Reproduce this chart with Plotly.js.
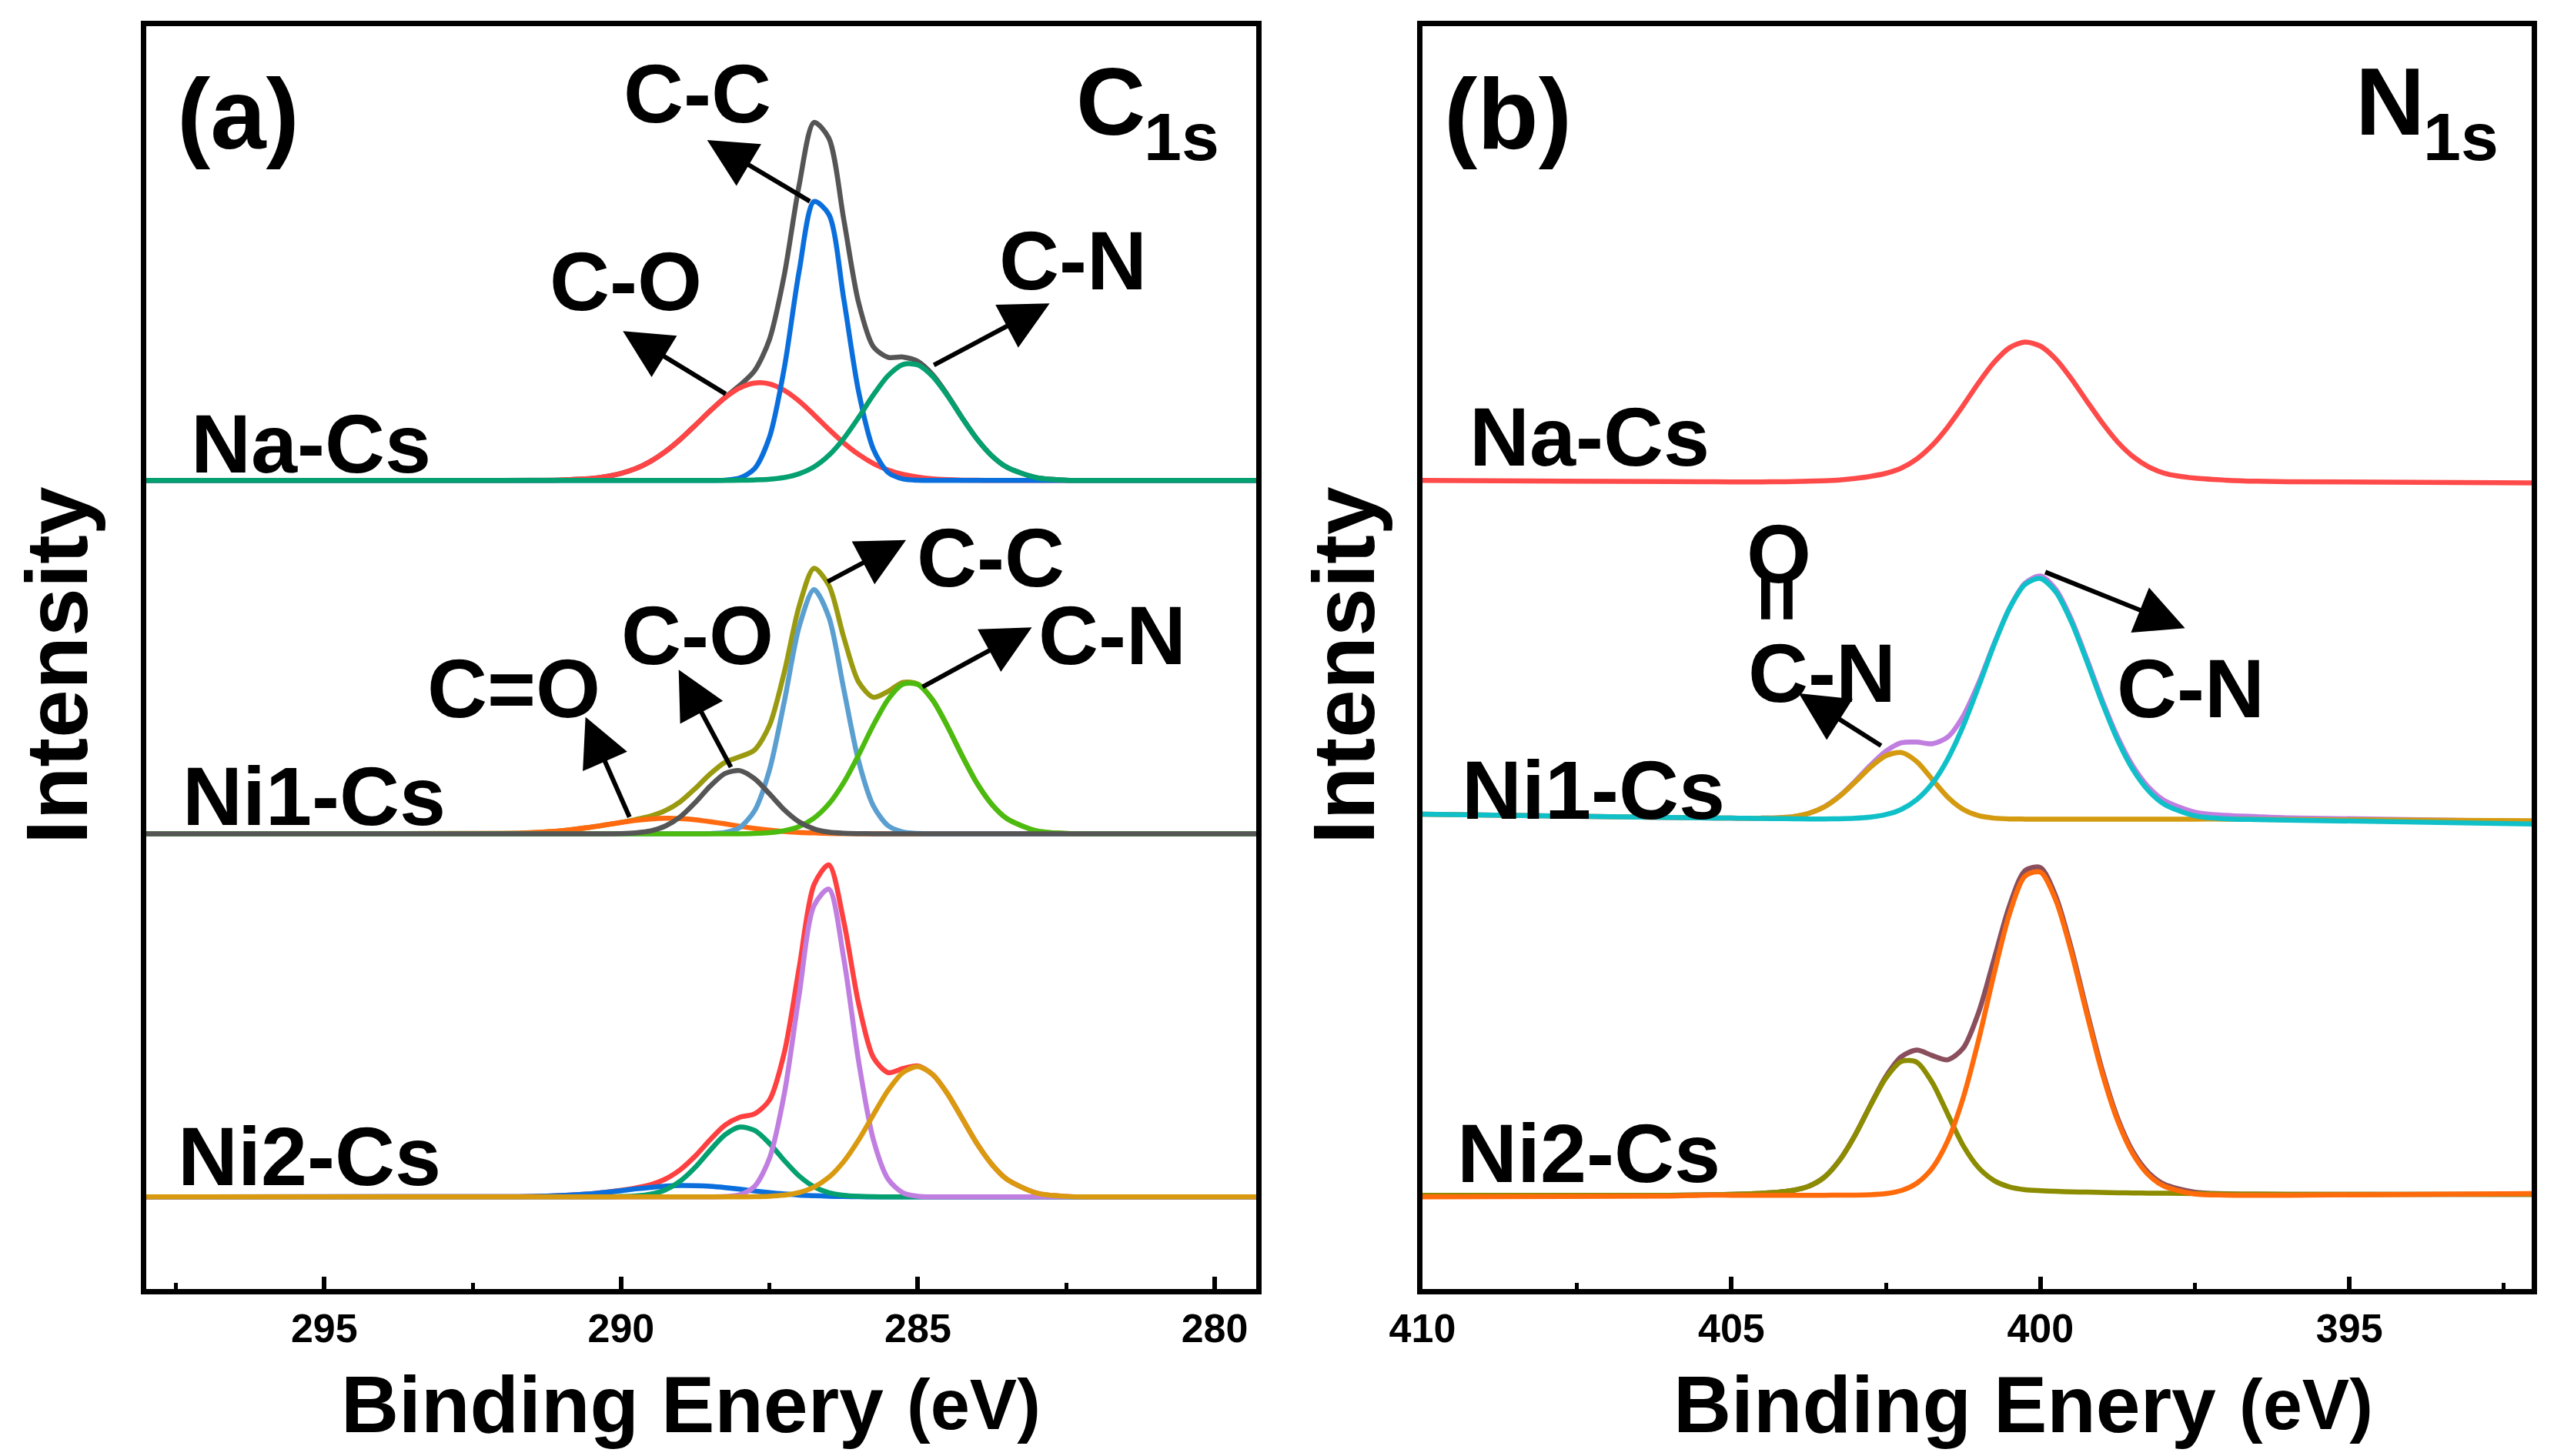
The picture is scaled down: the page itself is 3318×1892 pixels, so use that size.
<!DOCTYPE html>
<html>
<head>
<meta charset="utf-8">
<script src="https://cdn.plot.ly/plotly-3.0.1.min.js"></script>
<style>html,body{margin:0;padding:0;background:#fff;}#chart{width:3318px;height:1892px;}</style>
</head>
<body>
<div id="chart"></div>
<script>
// ---------- C1s panel (a) ----------
const XL = [298, 292, 291.5, 291, 290.5, 290.25, 290, 289.75, 289.5, 289.25, 289, 288.75, 288.5, 288.25, 288, 287.75, 287.5, 287.25, 287, 286.75, 286.5, 286.25, 286, 285.75, 285.5, 285.25, 285, 284.75, 284.5, 284.25, 284, 283.75, 283.5, 283, 282.5, 282, 279];

// Na-Cs (C1s)
const naC_env = [0,0,0.1,0.3,1.2,2.4,4.3,7.3,11.8,17.8,25.3,33.9,42.7,51.0,58.4,67.4,86.6,126.3,181.4,219.9,210.2,160.6,109.4,82.1,75.6,75.8,73.1,64.9,52.5,38.3,25.3,15.0,8.1,1.7,0.2,0,0];
const naC_CO  = [0,0,0.05,0.3,1.2,2.4,4.3,7.3,11.8,17.8,25.3,33.9,42.7,50.8,56.8,59.8,59.3,55.3,48.7,40.3,31.4,23.1,16.0,10.4,6.4,3.7,2.0,1.0,0.5,0.2,0.1,0,0,0,0,0,0];
const naC_CC  = [0,0,0,0,0,0,0,0,0,0,0,0,0,0.2,1.5,7.3,26.6,69.2,128.6,171.3,163.4,111.8,54.8,19.2,4.8,0.9,0.1,0,0,0,0,0,0,0,0,0,0];
const naC_CN  = [0,0,0,0,0,0,0,0,0,0,0,0,0,0,0.1,0.3,0.7,1.8,4.1,8.3,15.4,25.7,38.6,52.5,64.4,71.2,71.0,63.9,52.0,38.1,25.2,15.0,8.1,1.7,0.2,0,0];

// Ni1-Cs (C1s)
const ni1C_env = [0,0.2,0.7,1.9,4.1,5.5,7.0,8.8,10.9,14.3,19.8,27.8,36.7,43.9,47.3,51.5,66.6,99.3,139.8,163.0,152.6,120.8,93.3,83.8,87.5,93.0,91.9,82.1,65.9,47.6,30.8,17.9,9.3,1.8,0.2,0,0];
const ni1C_CEO = [0,0.2,0.7,1.9,4.1,5.5,6.9,8.2,9.1,9.5,9.3,8.6,7.4,6.1,4.6,3.3,2.2,1.4,0.8,0.5,0.2,0.1,0,0,0,0,0,0,0,0,0,0,0,0,0,0,0];
const ni1C_CC  = [0,0,0,0,0,0,0,0,0,0,0,0,0.1,0.8,3.9,14.2,39.2,81.3,127.2,149.9,133.1,89.0,44.9,17.1,4.9,1.1,0.2,0,0,0,0,0,0,0,0,0,0];
const ni1C_CN  = [0,0,0,0,0,0,0,0,0,0,0,0,0,0,0,0.2,0.7,1.9,4.5,9.6,18.3,31.4,48.3,66.7,82.6,91.9,91.7,82.1,65.9,47.6,30.8,17.9,9.3,1.8,0.2,0,0];
const ni1C_CO  = [0,0,0,0,0,0,0.1,0.6,1.8,4.8,10.5,19.2,29.2,37.0,38.8,33.8,24.5,14.7,7.3,3.0,1.0,0.3,0.1,0,0,0,0,0,0,0,0,0,0,0,0,0,0];

// Ni2-Cs (C1s)
const ni2C_env = [0,0.1,0.2,0.8,1.9,2.8,4.0,5.5,7.5,11.0,16.8,25.1,35.1,44.0,48.9,51.0,59.5,88.6,140.8,191.7,203.9,169.4,118.9,85.6,76.3,78.8,80.4,75.1,63.3,47.9,32.5,19.8,10.8,2.3,0.3,0,0];
const ni2C_CEO = [0,0.1,0.2,0.8,1.9,2.8,3.8,4.9,5.8,6.6,7.0,6.9,6.5,5.7,4.7,3.6,2.6,1.8,1.1,0.7,0.4,0.2,0.1,0,0,0,0,0,0,0,0,0,0,0,0,0,0];
const ni2C_CO  = [0,0,0,0,0,0,0.2,0.6,1.7,4.4,9.8,18.2,28.6,38.1,42.9,40.8,32.8,22.3,12.8,6.2,2.5,0.9,0.3,0.1,0,0,0,0,0,0,0,0,0,0,0,0,0];
const ni2C_CC  = [0,0,0,0,0,0,0,0,0,0,0,0,0,0.2,1.3,6.5,23.7,63.4,124.2,178.8,189.0,146.7,83.7,35.1,10.8,2.4,0.4,0,0,0,0,0,0,0,0,0,0];
const ni2C_CN  = [0,0,0,0,0,0,0,0,0,0,0,0,0,0,0,0.1,0.4,1.1,2.7,6.0,12.0,21.6,34.8,50.4,65.5,76.4,80.0,75.1,63.3,47.9,32.5,19.8,10.8,2.3,0.3,0,0];

// ---------- N1s panel (b) ----------
const XR = [410, 406, 405.5, 405, 404.75, 404.5, 404.25, 404, 403.75, 403.5, 403.25, 403, 402.75, 402.5, 402.25, 402, 401.75, 401.5, 401.25, 401, 400.75, 400.5, 400.25, 400, 399.75, 399.5, 399.25, 399, 398.75, 398.5, 398.25, 398, 397.5, 397, 396.5, 396, 392];

const naN_env  = [1,0.3,0.2,0.1,0.1,0.1,0.2,0.3,0.5,0.8,1.3,2.2,3.5,5.4,8.6,14.2,22.6,33.8,47.0,61.0,73.5,82.5,86.0,83.5,75.5,63.5,49.8,36.4,24.6,15.6,9.4,5.5,2.4,1.2,0.5,0.2,-0.5];

const ni1N_env = [3,1,0.8,0.6,0.5,0.6,0.8,1.5,3.5,7.5,14.2,23.2,33.1,41.7,46.9,47.3,46.3,50.4,63.2,83.6,107.7,129.6,144.8,149.3,141.0,122.7,98.5,73.0,50.3,32.3,19.6,11.5,4.3,2.3,1.5,0.8,-1.5];
const ni1N_CN  = [3,1,0.8,0.6,0.5,0.4,0.3,0.2,0.1,0.1,0.2,0.5,1.2,2.8,6.0,12.0,21.9,36.9,57.2,81.5,107.1,129.5,144.1,147.8,139.5,121.2,97.0,71.5,48.5,30.3,17.4,9.2,2.0,0.2,-0.3,-0.6,-3];
const ni1N_OCN = [3,1,0.8,0.6,0.5,0.6,0.8,1.5,3.5,7.4,14.0,22.7,31.9,38.9,40.9,35.3,24.4,13.5,6.0,2.1,0.6,0.1,0,0,0,0,0,0,0,0,0,0,0,0,-0.2,-0.3,-1];

const ni2N_env = [0,0,0.2,0.5,0.8,1.2,1.8,3.0,5.5,11.0,21.6,36.9,55.4,73.0,85.1,89.1,85.8,83.2,90.3,112.3,145.0,177.9,199.3,201.2,183.5,151.6,113.4,76.8,47.3,26.6,13.8,6.8,1.8,0.9,0.6,0.5,0.5];
const ni2N_OCN = [0,0,0.2,0.5,0.8,1.2,1.8,3.0,5.5,11.0,21.5,36.8,55.1,72.0,82.2,81.7,69.2,49.8,30.5,16.9,9.0,5.1,3.4,2.8,2.4,2.1,1.9,1.7,1.5,1.4,1.3,1.2,1.0,0.8,0.6,0.5,0.5];
const ni2N_CN  = [-1,-0.5,0,0,0,0,0,0,0,0,0.05,0.1,0.3,1.0,2.9,7.4,16.6,33.4,59.8,95.4,136.0,172.8,195.9,198.4,181.1,149.5,111.5,75.1,45.8,25.2,12.5,5.6,0.8,0.1,0,0,1];

// stacking offsets (arbitrary intensity units)
const OFF_C_NA = 498, OFF_C_NI1 = 281, OFF_C_NI2 = 58;
const OFF_N_NA = 497, OFF_N_NI1 = 290, OFF_N_NI2 = 59;

const TICKS_C = [295, 290, 285, 280];
const TICKS_N = [410, 405, 400, 395];

const FONT = 'Liberation Sans, Arial, Helvetica, sans-serif';
const W = 3318, H = 1892;

function tr(xs, vals, off, color, panel) {
  return {
    x: xs, y: vals.map(v => v + off), mode: 'lines', hoverinfo: 'skip',
    line: {color: color, width: 6.5, shape: 'spline', smoothing: 0.8},
    xaxis: panel === 1 ? 'x' : 'x2', yaxis: panel === 1 ? 'y' : 'y2'
  };
}

const traces = [
  // panel a, Na-Cs
  tr(XL, naC_env, OFF_C_NA, '#555555', 1),
  tr(XL, naC_CO, OFF_C_NA, '#ff4545', 1),
  tr(XL, naC_CC, OFF_C_NA, '#0a6fdc', 1),
  tr(XL, naC_CN, OFF_C_NA, '#05a070', 1),
  // panel a, Ni1-Cs
  tr(XL, ni1C_env, OFF_C_NI1, '#9a9a10', 1),
  tr(XL, ni1C_CEO, OFF_C_NI1, '#ff6a10', 1),
  tr(XL, ni1C_CC, OFF_C_NI1, '#5a9fd0', 1),
  tr(XL, ni1C_CN, OFF_C_NI1, '#4cbb10', 1),
  tr(XL, ni1C_CO, OFF_C_NI1, '#555555', 1),
  // panel a, Ni2-Cs
  tr(XL, ni2C_env, OFF_C_NI2, '#ff4040', 1),
  tr(XL, ni2C_CEO, OFF_C_NI2, '#0a6fdc', 1),
  tr(XL, ni2C_CO, OFF_C_NI2, '#05a070', 1),
  tr(XL, ni2C_CC, OFF_C_NI2, '#c07ee0', 1),
  tr(XL, ni2C_CN, OFF_C_NI2, '#d99a10', 1),
  // panel b
  tr(XR, naN_env, OFF_N_NA, '#ff4a4a', 2),
  tr(XR, ni1N_env, OFF_N_NI1, '#c07ee0', 2),
  tr(XR, ni1N_OCN, OFF_N_NI1, '#d49a10', 2),
  tr(XR, ni1N_CN, OFF_N_NI1, '#10c0c8', 2),
  tr(XR, ni2N_env, OFF_N_NI2, '#8a4e5c', 2),
  tr(XR, ni2N_OCN, OFF_N_NI2, '#8c8c00', 2),
  tr(XR, ni2N_CN, OFF_N_NI2, '#ff6a0a', 2)
];

// label placed by pixel position in the 3318x1892 picture
function lab(text, px, py, size, extra) {
  return Object.assign({
    xref: 'paper', yref: 'paper', x: px / W, y: 1 - py / H, xanchor: 'center', yanchor: 'middle',
    text: '<b>' + text + '</b>', showarrow: false,
    font: {family: FONT, size: size, color: '#000'}
  }, extra || {});
}
function arr(xh, yh, xt, yt, panel) {
  const xa = panel === 1 ? 'x' : 'x2', ya = panel === 1 ? 'y' : 'y2';
  return {
    xref: xa, yref: ya, axref: xa, ayref: ya, x: xh, y: yh, ax: xt, ay: yt,
    text: '', showarrow: true, arrowhead: 2, arrowsize: 2.1, arrowwidth: 6,
    arrowcolor: '#000', standoff: 0, startstandoff: 0
  };
}

const annotations = [
  lab('(a)', 309, 148, 130),
  lab('C', 1490, 131, 125, {xanchor: 'right'}),
  lab('1s', 1484, 178, 88, {xanchor: 'left'}),
  lab('(b)', 1959, 148, 130),
  lab('N', 3152, 131, 125, {xanchor: 'right'}),
  lab('1s', 3146, 178, 88, {xanchor: 'left'}),
  // panel a labels
  lab('C-C', 906, 122, 108),
  lab('C-O', 813, 365, 108),
  lab('C-N', 1394, 338, 108),
  lab('Na-Cs', 404, 577, 108),
  lab('C-C', 1287, 725, 108),
  lab('C-N', 1445, 825, 108),
  lab('C-O', 906, 825, 108),
  lab('C=O', 667, 894, 108),
  lab('Ni1-Cs', 408, 1034, 108),
  lab('Ni2-Cs', 402, 1502, 108),
  // panel b labels
  lab('Na-Cs', 2065, 567, 108),
  lab('Ni1-Cs', 2070, 1026, 108),
  lab('Ni2-Cs', 2064, 1498, 108),
  lab('C-N', 2846, 894, 108),
  lab('O', 2311, 719, 108),
  lab('=', 2311, 777, 108, {textangle: 90}),
  lab('C-N', 2367, 874, 108),
  // axis titles
  lab('Intensity', 74, 865, 113, {textangle: -90}),
  lab('Intensity', 1746, 865, 113, {textangle: -90}),
  lab('Binding Enery', 1150, 1825, 104, {xanchor: 'right'}),
  lab('(eV)', 1176, 1825, 92, {xanchor: 'left'}),
  lab('Binding Enery', 2881, 1825, 104, {xanchor: 'right'}),
  lab('(eV)', 2907, 1825, 92, {xanchor: 'left'}),
  // arrows panel a
  arr(288.55, 707, 286.80, 669, 1),
  arr(289.97, 589.7, 288.22, 550.7, 1),
  arr(282.78, 606.7, 284.75, 568.5, 1),
  arr(285.20, 461.4, 286.54, 435.4, 1),
  arr(283.08, 407.8, 284.94, 370.8, 1),
  arr(289.03, 381.8, 288.14, 321.2, 1),
  arr(290.60, 352.7, 289.85, 290.5, 1),
  // arrows panel b
  arr(397.66, 407.3, 399.94, 442, 2),
  arr(403.91, 367.2, 402.56, 334.6, 2)
];

const axX = {
  ticks: 'inside', ticklen: 16, tickwidth: 6, tickcolor: '#000',
  showline: true, linewidth: 7, linecolor: '#000', mirror: true,
  showgrid: false, zeroline: false,
  tickfont: {family: FONT, size: 52, color: '#000', weight: 'bold'},
  minor: {dtick: 2.5, tick0: 0, ticks: 'inside', ticklen: 8, tickwidth: 5, tickcolor: '#000', showgrid: false}
};
const axY = {
  range: [1.4, 777], domain: [0.11469, 0.98203],
  showticklabels: false, ticks: '', showline: true, linewidth: 7, linecolor: '#000',
  mirror: true, showgrid: false, zeroline: false
};

const layout = {
  width: W, height: H,
  margin: {l: 0, r: 0, t: 0, b: 0},
  paper_bgcolor: '#ffffff', plot_bgcolor: '#ffffff',
  showlegend: false,
  font: {family: FONT},
  xaxis: Object.assign({}, axX, {domain: [0.05726, 0.49186], range: [298, 279.3], tickvals: TICKS_C, anchor: 'y'}),
  yaxis: Object.assign({}, axY, {anchor: 'x'}),
  xaxis2: Object.assign({}, axX, {domain: [0.55696, 0.99126], range: [410, 392.05], tickvals: TICKS_N, anchor: 'y2'}),
  yaxis2: Object.assign({}, axY, {anchor: 'x2'}),
  annotations: annotations
};

Plotly.newPlot('chart', traces, layout, {staticPlot: true, displayModeBar: false});
</script>
</body>
</html>
